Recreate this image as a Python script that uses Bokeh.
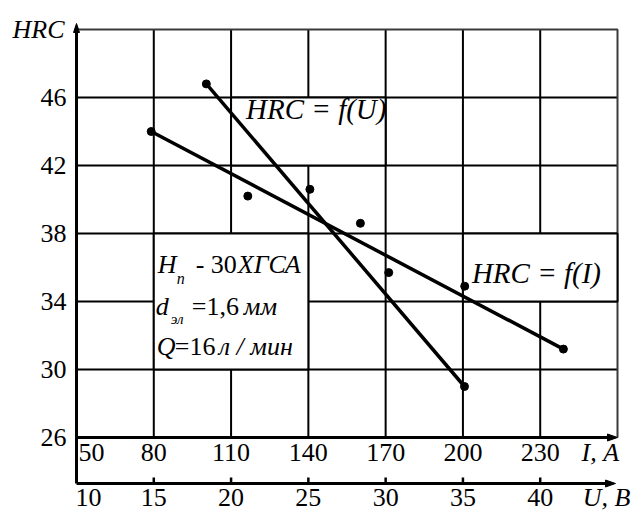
from bokeh.plotting import figure
from bokeh.models import Range1d, FixedTicker, ColumnDataSource, LinearAxis
from bokeh.core.properties import value
from bokeh.embed import file_html
from bokeh.resources import INLINE

# ---------------- data ----------------
I_TICKS = [50, 80, 110, 140, 170, 200, 230]
U_TICKS = [10, 15, 20, 25, 30, 35, 40]
Y_TICKS = [26, 30, 34, 38, 42, 46]
I_MAX = 260
Y_MAX = 50

I_PTS_X = [79, 116.5, 160.2, 200.7, 239]
I_PTS_Y = [44.0, 40.2, 38.6, 34.9, 31.2]
U_PTS_X = [18.4, 25.1, 30.2, 35.1]
U_PTS_Y = [46.8, 40.6, 35.7, 29.0]

I_LINE_X = [79, 239]
I_LINE_Y = [44.0, 31.2]
U_LINE_X = [18.4, 35.1]
U_LINE_Y = [46.8, 29.0]

LABEL_I = "HRC = f(I)"
LABEL_U = "HRC = f(U)"
Y_TITLE = "HRC"
I_TITLE = "I, А"
U_TITLE = "U, В"

# ---------------- layout (pixels) ----------------
W, H = 633, 513
LEFT = 68
GX0 = 8
TOP = 29
SX = 541 / (I_MAX - I_TICKS[0])
SY = 17.0
U_PER_I = (U_TICKS[1] - U_TICKS[0]) / (I_TICKS[1] - I_TICKS[0])
BL = -11   # baseline correction for text glyphs

x0 = I_TICKS[0] - GX0 / SX
x1 = I_TICKS[0] + (W - LEFT - GX0) / SX
y1 = Y_MAX + TOP / SY
y0 = y1 - H / SY
Y_BAND = Y_TICKS[0] - 46 / SY

FONT = "Liberation Serif"

p = figure(width=W, height=H, output_backend="svg", toolbar_location=None,
           x_range=Range1d(x0, x1), y_range=Range1d(y0, y1),
           x_axis_location=None, min_border_left=LEFT, min_border_right=0,
           min_border_top=0, min_border_bottom=0)
p.extra_x_ranges = {"U": Range1d(U_TICKS[0] + (x0 - I_TICKS[0]) * U_PER_I,
                                 U_TICKS[0] + (x1 - I_TICKS[0]) * U_PER_I)}
p.grid.visible = False
p.outline_line_color = None


def style_axis(a, size, style, standoff):
    a.major_tick_out = 0
    a.major_tick_in = 0
    a.minor_tick_out = 0
    a.minor_tick_in = 0
    a.axis_line_color = None
    a.major_label_standoff = standoff
    a.major_label_text_font = FONT
    a.major_label_text_font_size = size
    a.major_label_text_font_style = style
    a.major_label_text_color = "black"


ax = p.yaxis[0]
ax.ticker = FixedTicker(ticks=Y_TICKS)
style_axis(ax, "26px", "normal", 2)

tax = LinearAxis(ticker=FixedTicker(ticks=[Y_MAX]),
                 major_label_overrides={Y_MAX: Y_TITLE})
style_axis(tax, "26px", "italic", -27)
p.add_layout(tax, "left")

# ---------------- grid ----------------
vx = I_TICKS[1:]
p.segment(x0=vx, y0=[Y_TICKS[0]] * len(vx), x1=vx, y1=[Y_MAX] * len(vx),
          line_color="black", line_width=2)
hy = Y_TICKS[1:]
p.segment(x0=[I_TICKS[0]] * len(hy), y0=hy, x1=[I_MAX] * len(hy), y1=hy,
          line_color="black", line_width=2)
# outer border (top and right)
p.line(x=[I_TICKS[0], I_MAX, I_MAX], y=[Y_MAX, Y_MAX, Y_TICKS[0]],
       line_color="#3a3a3a", line_width=2)

p.quad(left=[I_TICKS[1], 200, 110], right=[I_TICKS[3], I_MAX, 170],
       bottom=[30, 34, 42], top=[38, 38, 46],
       fill_color="white", line_color="black", line_width=2)

# ---------------- axes lines and arrows ----------------
p.segment(x0=[I_TICKS[0]], y0=[Y_BAND], x1=[I_TICKS[0]], y1=[Y_MAX + 3 / SY],
          line_color="black", line_width=3)
p.segment(x0=[I_TICKS[0]], y0=[Y_TICKS[0]], x1=[I_MAX - 5 / SX], y1=[Y_TICKS[0]],
          line_color="black", line_width=3)
p.segment(x0=[I_TICKS[0]], y0=[Y_BAND], x1=[I_MAX - 7 / SX], y1=[Y_BAND],
          line_color="black", line_width=3)
p.patches(xs=[[I_TICKS[0] - 3 / SX, I_TICKS[0], I_TICKS[0] + 3 / SX],
              [I_MAX - 10 / SX, I_MAX, I_MAX - 10 / SX],
              [I_MAX - 12 / SX, I_MAX - 2 / SX, I_MAX - 12 / SX]],
          ys=[[Y_MAX - 3 / SY, Y_MAX + 6 / SY, Y_MAX - 3 / SY],
              [Y_TICKS[0] + 3.5 / SY, Y_TICKS[0], Y_TICKS[0] - 3.5 / SY],
              [Y_BAND + 3.5 / SY, Y_BAND, Y_BAND - 3.5 / SY]],
          fill_color="black", line_color="black", line_width=1)
ut = U_TICKS[1:]
p.segment(x0=ut, y0=[Y_BAND] * len(ut), x1=ut, y1=[Y_BAND + 6 / SY] * len(ut),
          line_color="black", line_width=2.5, x_range_name="U")

# ---------------- data ----------------
p.line(I_LINE_X, I_LINE_Y, line_color="black", line_width=3.5)
p.line(U_LINE_X, U_LINE_Y, line_color="black", line_width=3.5, x_range_name="U")
p.scatter(I_PTS_X, I_PTS_Y, size=8, color="black")
p.scatter(U_PTS_X, U_PTS_Y, size=8, color="black", x_range_name="U")

# ---------------- tick labels ----------------
isrc = ColumnDataSource(dict(
    x=I_TICKS, y=[Y_TICKS[0]] * len(I_TICKS), t=[str(v) for v in I_TICKS],
    align=["left"] + ["center"] * (len(I_TICKS) - 1),
    dx=[2] + [0] * (len(I_TICKS) - 1)))
p.text(x="x", y="y", text="t", source=isrc, text_align="align", x_offset="dx",
       y_offset=26 + BL, text_baseline="alphabetic", text_font=value(FONT),
       text_font_size="26px", text_color="black")
usrc = ColumnDataSource(dict(
    x=U_TICKS, y=[Y_BAND] * len(U_TICKS), t=[str(v) for v in U_TICKS],
    align=["left"] + ["center"] * (len(U_TICKS) - 1),
    dx=[-1] + [0] * (len(U_TICKS) - 1)))
p.text(x="x", y="y", text="t", source=usrc, text_align="align", x_offset="dx",
       y_offset=25 + BL, text_baseline="alphabetic", text_font=value(FONT),
       text_font_size="26px", text_color="black", x_range_name="U")

p.text(x=[I_MAX], y=[Y_TICKS[0]], text=[I_TITLE], x_offset=-36, y_offset=26 + BL,
       text_align="left", text_baseline="alphabetic", text_font=value(FONT),
       text_font_size="26px", text_font_style="italic", text_color="black")
p.text(x=[I_MAX], y=[Y_BAND], text=[U_TITLE], x_offset=13, y_offset=25 + BL,
       text_align="right", text_baseline="alphabetic", text_font=value(FONT),
       text_font_size="26px", text_font_style="italic", text_color="black")

p.text(x=[110], y=[46], text=[LABEL_U], x_offset=15, y_offset=22 + BL,
       text_align="left", text_baseline="alphabetic", text_font=value(FONT),
       text_font_size="29px", text_font_style="italic", text_color="black")
p.text(x=[200], y=[38], text=[LABEL_I], x_offset=9, y_offset=50 + BL,
       text_align="left", text_baseline="alphabetic", text_font=value(FONT),
       text_font_size="29px", text_font_style="italic", text_color="black")

pieces = [
    ("Н", 4, 41.5 + BL, "26px", "italic"),
    ("п", 23, 52 - 7, "16px", "italic"),
    ("-", 42, 41.5 + BL, "26px", "normal"),
    ("30", 57, 41.5 + BL, "26px", "normal"),
    ("ХГСА", 84, 41.5 + BL, "26px", "italic"),
    ("d", 2, 84 + BL, "26px", "italic"),
    ("эл", 17, 92 - 7, "15px", "italic"),
    ("=1,6", 38, 84 + BL, "26px", "normal"),
    ("мм", 90, 84 + BL, "26px", "italic"),
    ("Q", 3, 124 + BL, "26px", "italic"),
    ("=16", 21, 124 + BL, "26px", "normal"),
    ("л / мин", 65, 124 + BL, "26px", "italic"),
]
csrc = ColumnDataSource(dict(
    x=[I_TICKS[1]] * len(pieces), y=[38] * len(pieces),
    t=[q[0] for q in pieces], dx=[q[1] for q in pieces], dy=[q[2] for q in pieces],
    fs=[q[3] for q in pieces], st=[q[4] for q in pieces]))
p.text(x="x", y="y", text="t", source=csrc, x_offset="dx", y_offset="dy",
       text_font_size="fs", text_font_style="st", text_align="left",
       text_baseline="alphabetic", text_font=value(FONT), text_color="black")

open("out.html", "w").write(file_html(p, INLINE))
